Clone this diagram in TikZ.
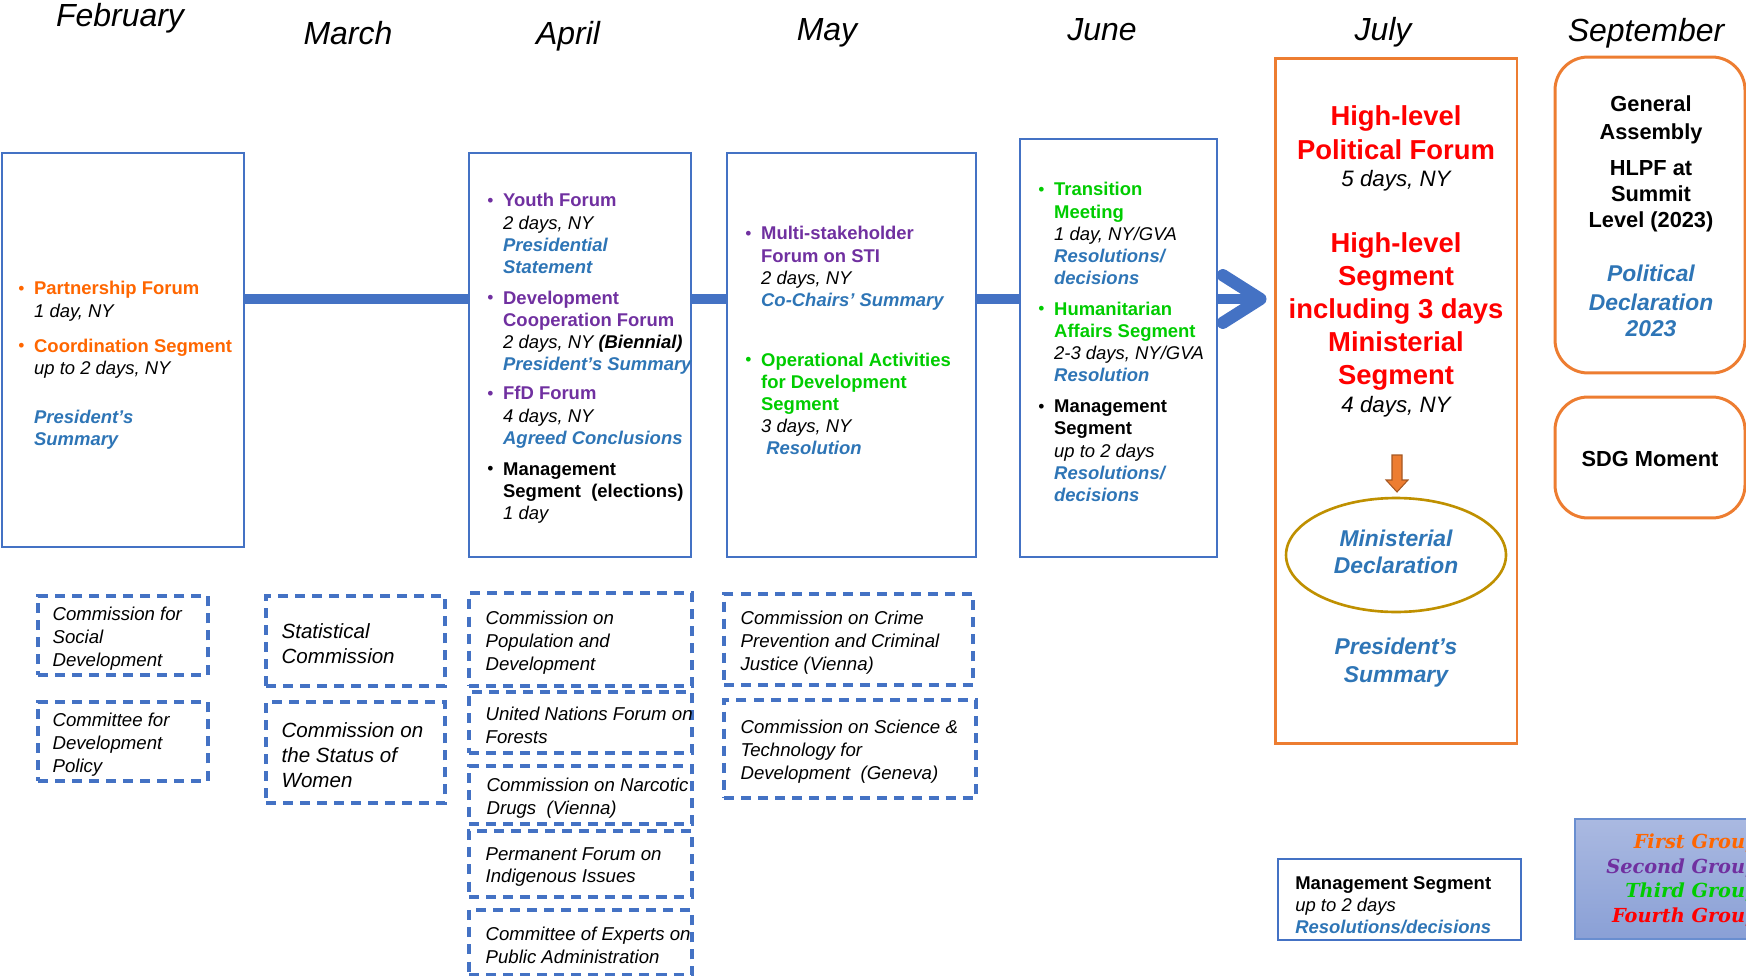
\documentclass[tikz,border=0pt]{standalone}
\usepackage{fontspec}
\setmainfont{Liberation Sans}
\newfontfamily\legendfont{DejaVu Serif}
\usetikzlibrary{shapes.geometric,arrows.meta,positioning}

\definecolor{boxblue}{RGB}{68,114,196}
\definecolor{julyorange}{RGB}{237,125,49}
\definecolor{outblue}{RGB}{46,117,182}
\definecolor{firstgrp}{RGB}{255,102,0}
\definecolor{secondgrp}{RGB}{112,48,160}
\definecolor{thirdgrp}{RGB}{0,204,0}
\definecolor{fourthgrp}{RGB}{255,0,0}
\definecolor{ellgold}{RGB}{191,144,0}
\definecolor{legtop}{RGB}{170,185,225}
\definecolor{legbot}{RGB}{138,160,214}

\newcommand{\outc}[1]{\textcolor{outblue}{\bfseries\itshape #1}}
\newcommand{\grp}[2]{\textcolor{#1}{\bfseries #2}}
\newcommand{\bul}[1]{\textcolor{#1}{\raisebox{0.3pt}{\fontsize{10}{10}\selectfont\textbullet}}}
\newcommand{\decl}[1]{\outc{\fontsize{13}{15.5}\selectfont #1}}
\newcommand{\dur}[1]{\textcolor{black}{\fontsize{12.7}{15}\selectfont\mdseries\itshape #1}}

\tikzset{
  month/.style={anchor=base, inner sep=0, font=\fontsize{18.2}{22}\selectfont\itshape},
  mainbox/.style={draw=boxblue, line width=1.5pt, inner sep=0},
  julybox/.style={draw=julyorange, line width=1.7pt, inner sep=0},
  septbox/.style={draw=julyorange, line width=1.7pt, rounded corners=0.66cm, inner sep=0},
  dbox/.style={draw=boxblue, line width=2pt, dash pattern=on 5.7pt off 4pt, inner sep=0},
  items/.style={anchor=base west, inner sep=0, font=\fontsize{10.5}{12.6}\selectfont},
  dtext/.style={anchor=west, yshift=-0.06cm, inner sep=0, align=left, font=\fontsize{10.6}{13}\selectfont\itshape},
  conn/.style={draw=boxblue, line width=5.7pt},
}

\begin{document}
\begin{tikzpicture}[x=0.02cm, y=-0.02cm]
\useasboundingbox (0,0) rectangle (1746,976);

% months
\node[month] (febm) at (120,27) {February};
\node[month] (marm) at (348,45) {March};
\node[month] (aprm) at (568,45) {April};
\node[month] (maym) at (827,41) {May};
\node[month] (junm) at (1102,41) {June};
\node[month] (julm) at (1383,41) {July};
\node[month] (sepm) at (1646,42) {September};

% session boxes
\node[mainbox, minimum width=4.84cm, minimum height=7.88cm] (feb) at (123,350) {};
\node[mainbox, minimum width=4.44cm, minimum height=8.08cm] (apr) at (580,355) {};
\node[mainbox, minimum width=4.98cm, minimum height=8.08cm] (may) at (851.5,355) {};
\node[mainbox, minimum width=3.94cm, minimum height=8.36cm] (jun) at (1118.5,348) {};
\node[julybox, minimum width=4.84cm, minimum height=13.72cm] (jul) at (1396,401) {};
\node[septbox, minimum width=3.8cm, minimum height=6.32cm] (ga) at (1650,215) {};
\node[septbox, minimum width=3.8cm, minimum height=2.42cm] (sdgbox) at (1650,457.5) {};

% timeline
\coordinate (liney) at (0,299);
\draw[conn] (feb.east |- liney) -- (apr.west |- liney);
\draw[conn] (apr.east |- liney) -- (may.west |- liney);
\draw[conn] (may.east |- liney) -- (jun.west |- liney);
\draw[conn, -{Straight Barb[length=0.75cm, width=0.95cm, round, line width=7pt]}, shorten >=0.14cm]
  (jun.east |- liney) -- (jul.west |- liney);

% segments
\node[items] (febtxt) at (18,295) {\begin{tabular}[t]{@{}l@{\hspace{5.5pt}}l@{}}
\bul{firstgrp} & \grp{firstgrp}{Partnership Forum}\\
 & \itshape 1 day, NY\\[7.3pt]
\bul{firstgrp} & \grp{firstgrp}{Coordination Segment}\\
 & \itshape up to 2 days, NY\\[15.2pt]
 & \outc{President’s}\\
 & \outc{Summary}
\end{tabular}};

\node[items] (aprtxt) at (487,207) {\begin{tabular}[t]{@{}l@{\hspace{5.5pt}}l@{}}
\bul{secondgrp} & \grp{secondgrp}{Youth Forum}\\
 & \itshape 2 days, NY\\
 & \outc{Presidential}\\
 & \outc{Statement}\\[5pt]
\bul{secondgrp} & \grp{secondgrp}{Development}\\
 & \grp{secondgrp}{Cooperation Forum}\\
 & \itshape 2 days, NY \textbf{(Biennial)}\\
 & \outc{President’s Summary}\\[4pt]
\bul{secondgrp} & \grp{secondgrp}{FfD Forum}\\
 & \itshape 4 days, NY\\
 & \outc{Agreed Conclusions}\\[5pt]
\bul{black} & \textbf{Management}\\
 & \textbf{Segment\ \ (elections)}\\
 & \itshape 1 day
\end{tabular}};

\node[items] (maytxt) at (745,240) {\begin{tabular}[t]{@{}l@{\hspace{5.5pt}}l@{}}
\bul{secondgrp} & \grp{secondgrp}{Multi-stakeholder}\\
 & \grp{secondgrp}{Forum on STI}\\
 & \itshape 2 days, NY\\
 & \outc{Co-Chairs’ Summary}\\[21.5pt]
\bul{thirdgrp} & \grp{thirdgrp}{Operational Activities}\\
 & \grp{thirdgrp}{for Development}\\
 & \grp{thirdgrp}{Segment}\\
 & \itshape 3 days, NY\\
 & \outc{\ Resolution}
\end{tabular}};

\node[items] (juntxt) at (1038,196) {\begin{tabular}[t]{@{}l@{\hspace{5.5pt}}l@{}}
\bul{thirdgrp} & \grp{thirdgrp}{Transition}\\
 & \grp{thirdgrp}{Meeting}\\
 & \itshape 1 day, NY/GVA\\
 & \outc{Resolutions/}\\
 & \outc{decisions}\\[5pt]
\bul{thirdgrp} & \grp{thirdgrp}{Humanitarian}\\
 & \grp{thirdgrp}{Affairs Segment}\\
 & \itshape 2-3 days, NY/GVA\\
 & \outc{Resolution}\\[5pt]
\bul{black} & \textbf{Management}\\
 & \textbf{Segment}\\
 & \itshape up to 2 days\\
 & \outc{Resolutions/}\\
 & \outc{decisions}
\end{tabular}};

% HLPF
\node[anchor=base, inner sep=0, font=\fontsize{15.6}{18.8}\selectfont\bfseries, text=fourthgrp] (hlpf) at (1396,126)
  {\begin{tabular}[t]{@{}c@{}}
  High-level\\
  Political Forum\\[-3pt]
  \dur{5 days, NY}\\[18.5pt]
  High-level\\
  Segment\\
  including 3 days\\
  Ministerial\\
  Segment\\[-2.6pt]
  \dur{4 days, NY}
  \end{tabular}};
\draw[fill=julyorange, draw=julyorange!70!black, line width=0.6pt]
  (1392,455) -- (1402,455) -- (1402,480) -- (1408,480) -- (1397,492) -- (1386,480) -- (1392,480) -- cycle;
\node[ellipse, draw=ellgold, line width=1.5pt, minimum width=4.4cm, minimum height=2.28cm, inner sep=0] (mindecl) at (1396,555) {};
\node[align=center, inner sep=0, font=\fontsize{13}{15.4}\selectfont\bfseries\itshape, text=outblue] (mindecltxt) at (1396,552) {Ministerial\\Declaration};
\node[align=center, inner sep=0, font=\fontsize{13}{15.9}\selectfont\bfseries\itshape, text=outblue] (julsum) at (1396,663) {President’s\\Summary};

% General Assembly
\node[anchor=base, inner sep=0, font=\fontsize{12.4}{14.8}\selectfont\bfseries] (gatxt) at (1651,112)
  {\begin{tabular}[t]{@{}c@{}}
  General\\[0.6pt]
  Assembly\\[6.2pt]
  HLPF at\\
  Summit\\
  Level (2023)\\[15.4pt]
  \decl{Political}\\[1.7pt]
  \decl{Declaration}\\
  \decl{2023}
  \end{tabular}};
\node[inner sep=0, font=\fontsize{12.4}{14.8}\selectfont\bfseries] (sdg) at (1650,459) {SDG Moment};

% functional commissions
\node[dbox, minimum width=3.4cm, minimum height=1.58cm] (csocd) at (123,635.5) {};
\node[dbox, minimum width=3.4cm, minimum height=1.58cm] (cdp) at (123,741.5) {};
\node[dbox, minimum width=3.58cm, minimum height=1.8cm] (statcom) at (355.5,641) {};
\node[dbox, minimum width=3.58cm, minimum height=2.02cm] (csw) at (355.5,752.5) {};
\node[dbox, minimum width=4.46cm, minimum height=1.86cm] (cpd) at (580.5,639.5) {};
\node[dbox, minimum width=4.46cm, minimum height=1.22cm] (unff) at (580.5,722.5) {};
\node[dbox, minimum width=4.46cm, minimum height=1.16cm] (cnd) at (580.5,795) {};
\node[dbox, minimum width=4.46cm, minimum height=1.32cm] (pfii) at (580.5,864) {};
\node[dbox, minimum width=4.46cm, minimum height=1.3cm] (cepa) at (580.5,942.5) {};
\node[dbox, minimum width=4.98cm, minimum height=1.82cm] (ccpcj) at (848.5,639.5) {};
\node[dbox, minimum width=5.04cm, minimum height=1.96cm] (cstd) at (850,749) {};

\node[dtext] (csocdtxt) at ([xshift=0.32cm]csocd.west) {Commission for\\Social\\Development};
\node[dtext] (cdptxt) at ([xshift=0.32cm]cdp.west) {Committee for\\Development\\Policy};
\node[dtext, font=\fontsize{11.7}{14.2}\selectfont\itshape] (statcomtxt) at ([xshift=0.34cm]statcom.west) {Statistical\\Commission};
\node[dtext, font=\fontsize{11.7}{14.2}\selectfont\itshape] (cswtxt) at ([xshift=0.34cm]csw.west) {Commission on\\the Status of\\Women};
\node[dtext] (cpdtxt) at ([xshift=0.36cm]cpd.west) {Commission on\\Population and\\Development};
\node[dtext] (unfftxt) at ([xshift=0.36cm]unff.west) {United Nations Forum on\\Forests};
\node[dtext] (cndtxt) at ([xshift=0.38cm]cnd.west) {Commission on Narcotic\\Drugs\ \ (Vienna)};
\node[dtext] (pfiitxt) at ([xshift=0.36cm]pfii.west) {Permanent Forum on\\Indigenous Issues};
\node[dtext] (cepatxt) at ([xshift=0.36cm]cepa.west) {Committee of Experts on\\Public Administration};
\node[dtext] (ccpcjtxt) at ([xshift=0.36cm]ccpcj.west) {Commission on Crime\\Prevention and Criminal\\Justice (Vienna)};
\node[dtext] (cstdtxt) at ([xshift=0.36cm]cstd.west) {Commission on Science \&\\Technology for\\Development\ \ (Geneva)};

% key
\node[mainbox, minimum width=4.86cm, minimum height=1.62cm] (mgmt) at (1399.5,899.5) {};
\node[items] (mgmttxt) at (1295,889) {\begin{tabular}[t]{@{}l@{}}
\textbf{Management Segment}\\
\itshape up to 2 days\\
\outc{Resolutions/decisions}
\end{tabular}};
\node[draw=boxblue!80, line width=0.8pt, top color=legtop, bottom color=legbot,
  minimum width=4.3cm, minimum height=2.4cm, inner sep=0] (legend) at (1682.5,879) {};
\node[anchor=east, align=right, inner sep=0, font=\legendfont\fontsize{11}{14}\selectfont\bfseries\itshape] (legtxt) at (1759,880)
  {\textcolor{firstgrp}{First Group}\\ \textcolor{secondgrp}{Second Group}\\ \textcolor{thirdgrp}{Third Group}\\ \textcolor{fourthgrp}{Fourth Group}};
\end{tikzpicture}
\end{document}
